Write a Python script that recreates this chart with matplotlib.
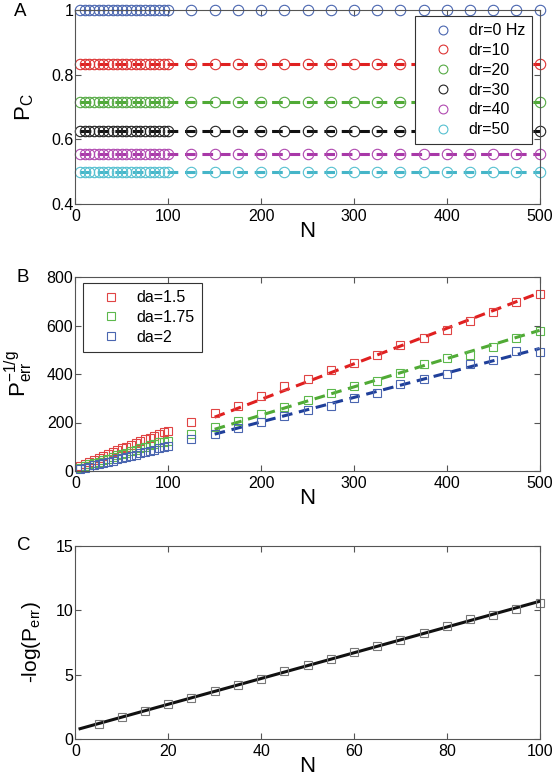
import numpy as np
import matplotlib
matplotlib.use("Agg")
import matplotlib.pyplot as plt

plt.rcParams['font.family'] = ['Liberation Sans', 'DejaVu Sans']
plt.rcParams['mathtext.fontset'] = 'custom'
plt.rcParams['mathtext.rm'] = 'Liberation Sans'
plt.rcParams['mathtext.it'] = 'Liberation Sans'

# ---- panel A data ----
n_dense = [5, 10, 15, 20, 25, 30, 35, 40, 45, 50, 55, 60, 65, 70, 75, 80, 85, 90, 95, 100]
n_sparse = [125, 150, 175, 200, 225, 250, 275, 300, 325, 350, 375, 400, 425, 450, 475, 500]
a_labels = ['dr=0 Hz', 'dr=10', 'dr=20', 'dr=30', 'dr=40', 'dr=50']
a_levels = [1.0, 0.833, 0.714, 0.625, 0.556, 0.5]
a_colors = ['#4a66b0', '#dd3333', '#55aa44', '#222222', '#b048b0', '#55c0d0']
a_line_colors = ['#3050a8', '#e02020', '#50aa35', '#111111', '#a838a8', '#45b5c8']

# ---- panel B data ----
b_labels = ['da=1.5', 'da=1.75', 'da=2']
b_colors = ['#e04444', '#5cb84c', '#4a66b0']
b_line_colors = ['#e02020', '#50aa35', '#1f3f9a']
b_dense = [
    [22, 30, 38, 46, 54, 62, 70, 77, 85, 93, 100, 108, 116, 123, 131, 138, 145, 152, 159, 166],
    [14, 20, 27, 33, 39, 45, 51, 57, 64, 70, 76, 82, 88, 94, 100, 106, 112, 118, 121, 125],
    [8, 13, 18, 23, 28, 33, 38, 43, 48, 53, 58, 63, 68, 73, 78, 83, 88, 93, 98, 103],
]
b_sparse = [
    [203, 240, 270, 308, 350, 380, 418, 445, 478, 520, 550, 582, 618, 655, 697, 730],
    [152, 180, 208, 237, 265, 292, 322, 350, 372, 403, 440, 465, 480, 510, 548, 578],
    [130, 152, 178, 202, 228, 252, 270, 300, 320, 360, 378, 400, 440, 458, 495, 492],
]
b_fit_x = [150, 500]
b_fit_y = [[222, 735], [172, 580], [152, 505]]

# ---- panel C data ----
c_n = [5, 10, 15, 20, 25, 30, 35, 40, 45, 50, 55, 60, 65, 70, 75, 80, 85, 90, 95, 100]
c_val = [1.2, 1.7, 2.2, 2.7, 3.2, 3.7, 4.2, 4.7, 5.25, 5.75, 6.2, 6.75, 7.2, 7.7, 8.25, 8.8, 9.3, 9.6, 10.1, 10.6]
c_fit_x = [1, 100]
c_fit_y = [0.8, 10.7]

fig = plt.figure(figsize=(5.52, 7.81), dpi=100)
W, H = 552, 781
X0, X1 = 75.4, 539.6


def make_ax(top_px, bottom_px):
    ax = fig.add_axes([X0 / W, 1 - bottom_px / H, (X1 - X0) / W, (bottom_px - top_px) / H])
    for s in ax.spines.values():
        s.set_color('#555555')
        s.set_linewidth(0.8)
    ax.tick_params(direction='in', top=True, right=True, labelsize=11.5,
                   color='#555555', length=4, width=0.8)
    ax.tick_params(axis='x', pad=3.5)
    ax.tick_params(axis='y', pad=1.5)
    return ax


def style_legend(leg):
    leg.get_frame().set_linewidth(0.8)
    leg.get_frame().set_edgecolor('#333333')


leg_kw = dict(loc='upper left', fontsize=11.5, frameon=True, fancybox=False,
              handlelength=2.6, handletextpad=0.3, borderpad=0.45,
              labelspacing=0.3, borderaxespad=0.0, framealpha=1.0)

# panel A
axA = make_ax(10, 204)
n_all = n_dense + n_sparse
for lev, col in zip(a_levels[1:], a_line_colors[1:]):
    axA.plot([5, 500], [lev, lev], '--', color=col, lw=2.2, dashes=(3.5, 2.2))
for lab, lev, col in zip(a_labels, a_levels, a_colors):
    axA.plot(n_all, [lev] * len(n_all), 'o', mfc='none', mec=col, ms=7.5, mew=0.8,
             ls='none', label=lab, clip_on=False)
axA.set_xlim(0, 500)
axA.set_ylim(0.4, 1.0)
axA.set_yticks([0.4, 0.6, 0.8, 1.0])
axA.set_yticklabels(['0.4', '0.6', '0.8', '1'])
axA.set_xlabel('N', fontsize=16)
axA.set_ylabel(r'$\mathregular{P_C}$', fontsize=16)
axA.xaxis.set_label_coords(0.5, -0.09)
axA.yaxis.set_label_coords(-0.085, 0.5)
legA = axA.legend(bbox_to_anchor=((415 - X0) / (X1 - X0), (204 - 16) / 194),
                  markerscale=0.85, **leg_kw)
style_legend(legA)

# panel B
axB = make_ax(277, 471)
for i in range(3):
    axB.plot(b_fit_x, b_fit_y[i], '--', color=b_line_colors[i], lw=2.2, dashes=(3.5, 2.2))
for i in range(3):
    axB.plot(n_dense + n_sparse, b_dense[i] + b_sparse[i], 's', mfc='none',
             mec=b_colors[i], ms=6, mew=0.8, ls='none', label=b_labels[i], clip_on=False)
axB.set_xlim(0, 500)
axB.set_ylim(0, 800)
axB.set_yticks([0, 200, 400, 600, 800])
axB.set_xlabel('N', fontsize=16)
axB.set_ylabel(r'$\mathregular{P_{err}^{-1/g}}$', fontsize=16)
axB.xaxis.set_label_coords(0.5, -0.09)
axB.yaxis.set_label_coords(-0.087, 0.5)
legB = axB.legend(bbox_to_anchor=((83 - X0) / (X1 - X0), (471 - 283) / 194), **leg_kw)
style_legend(legB)

# panel C
axC = make_ax(546, 739)
axC.plot(c_fit_x, c_fit_y, '-', color='#111111', lw=2.2)
axC.plot(c_n, c_val, 's', mfc='none', mec='#777777', ms=5.5, mew=0.8, ls='none',
         clip_on=False)
axC.set_xlim(0, 100)
axC.set_ylim(0, 15)
axC.set_yticks([0, 5, 10, 15])
axC.set_xlabel('N', fontsize=16)
axC.set_ylabel(r'-log($\mathregular{P_{err}}$)', fontsize=15)
axC.xaxis.set_label_coords(0.5, -0.09)
axC.yaxis.set_label_coords(-0.07, 0.5)

# panel letters
fig.text(14 / W, 1 - 12 / H, 'A', fontsize=13.5, va='center', ha='left')
fig.text(17 / W, 1 - 277 / H, 'B', fontsize=13.5, va='center', ha='left')
fig.text(17 / W, 1 - 546 / H, 'C', fontsize=13.5, va='center', ha='left')

fig.savefig('out.png', dpi=100)
